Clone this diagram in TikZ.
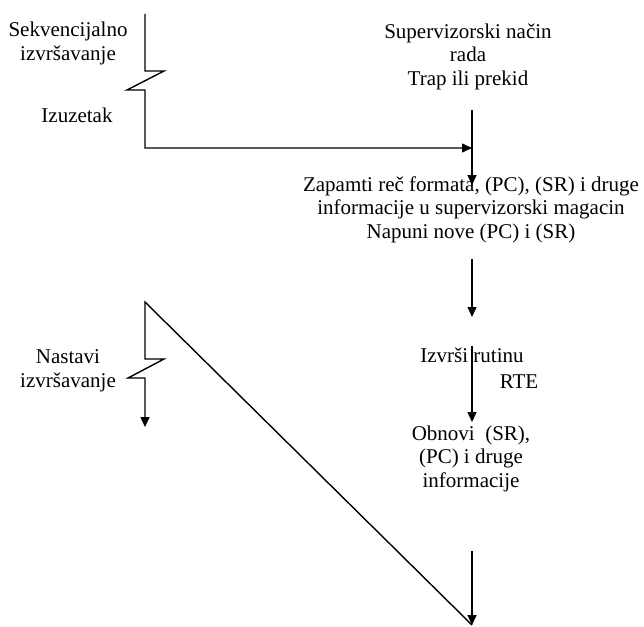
\documentclass[tikz,border=0pt]{standalone}
\usepackage{fontspec}
\setmainfont{Liberation Serif}
\usetikzlibrary{arrows.meta}
\begin{document}
\begin{tikzpicture}[x=1pt,y=-1pt,
  flow/.style={line width=1.4pt,line join=miter},
  arr/.style={flow,-{Triangle[length=10pt,width=9pt]}},
  lbl/.style={inner sep=0pt,align=center,anchor=base,
    font=\fontsize{21}{23.5}\selectfont}]
\useasboundingbox (0,0) rectangle (644,626);

% text blocks (placed by the baseline of their last line)
\node[lbl] (seq) at (68,60) {Sekvencijalno\\izvršavanje};
\node[lbl] (exc) at (77,122) {Izuzetak};
\node[lbl] (sup) at (468,85) {Supervizorski način\\rada\\Trap ili prekid};
\node[lbl] (save) at (471,238) {Zapamti reč formata, (PC), (SR) i druge\\informacije u supervizorski magacin\\Napuni nove (PC) i (SR)};
\node[lbl] (rout) at (472,362) {Izvrši rutinu};
\node[lbl] (rte) at (519,388) {RTE};
\node[lbl] (rest) at (471,487) {Obnovi\ \ (SR),\\(PC) i druge\\informacije};
\node[lbl] (cont) at (68,387) {Nastavi\\izvršavanje};

% connector end points
\coordinate (s0) at (145,14);
\coordinate (s1) at (145,148);
\coordinate (v0) at (472,110);
\coordinate (v1) at (472,185);
\coordinate (v2) at (472,259);
\coordinate (v3) at (472,317);
\coordinate (v4) at (472,346);
\coordinate (v5) at (472,422);
\coordinate (v6) at (472,551);
\coordinate (v7) at (472,625);
\coordinate (r0) at (145,302);
\coordinate (r1) at (145,427);

% sequential flow interrupted by the exception
\draw[arr] (s0) -- (145,71) -- (164,71) -- (127,90) -- (145,90) -- (s1) -- (v0 |- s1);
% supervisor mode steps
\draw[arr] (v0) -- (v1);
\draw[arr] (v2) -- (v3);
\draw[arr] (v4) -- (v5);
\draw[arr] (v6) -- (v7);
% return to the interrupted program
\draw[arr] (v7) -- (r0) -- (145,359) -- (164,359) -- (128,378) -- (145,378) -- (r1);
\end{tikzpicture}
\end{document}
